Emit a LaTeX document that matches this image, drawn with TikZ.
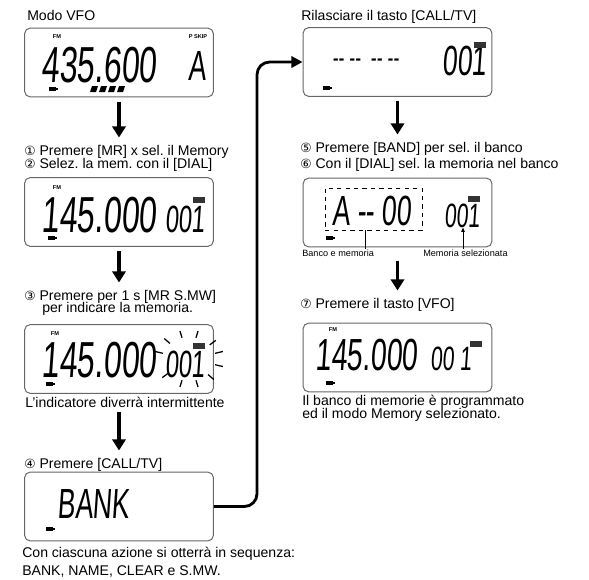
\documentclass[tikz,border=0pt]{standalone}
\usepackage{fontspec}
\setmainfont{Liberation Sans}
\newfontfamily\lcdfont[FakeStretch=0.63,FakeSlant=0.07]{Liberation Sans}
\newfontfamily\numfont{DejaVu Sans}
\usetikzlibrary{arrows.meta,calc}
\frenchspacing

% small LCD symbols
\newcommand{\battery}[2]{\fill (#1-4,#2-2) rectangle (#1+3,#2+2); \fill (#1+3,#2-1) rectangle (#1+5,#2+1);}
\newcommand{\mrflag}[2]{\fill[black!80] (#1-6,#2-3) rectangle (#1+6,#2+3);}
\newcommand{\cnum}[1]{{\numfont\fontsize{9}{9}\selectfont#1}}

\begin{document}
\begin{tikzpicture}[x=0.025cm, y=-0.025cm,
    lcd/.style={draw=black!60, line width=0.7pt, rounded corners=4pt, minimum width=4.72cm, minimum height=1.72cm},
    txt/.style={anchor=base west, inner sep=0pt, font=\fontsize{10}{10}\selectfont},
    small/.style={anchor=base west, inner sep=0pt, font=\fontsize{6.5}{6.5}\selectfont},
    big/.style={inner sep=0pt, anchor=base east, font=\lcdfont\fontsize{36}{36}\selectfont},
    mid/.style={inner sep=0pt, anchor=base west, font=\lcdfont\fontsize{27}{27}\selectfont},
    tag/.style={inner sep=0pt, font=\bfseries\fontsize{4}{4}\selectfont},
    flow/.style={line width=2.8pt, -{Triangle[length=8pt,width=9.5pt]}, shorten <=3pt, shorten >=5pt},
    link/.style={line width=2pt, rounded corners=9pt, -{Triangle[length=8pt,width=8pt]}}]
    \useasboundingbox (0,0) rectangle (589,579);

    % left column
    \node[txt] (titleA) at (27,20) {Modo VFO};
    \node[lcd] (lcdA) at (119,62.5) {};
    \node[big] (frqA) at (157,82) {435.600};
    \node[mid, font=\lcdfont\fontsize{30}{30}\selectfont] (bandA) at (188,80) {A};
    \node[tag] (fmA) at (57,37) {FM};
    \node[tag] (skipA) at (198,37) {P SKIP};
    \battery{53}{89}
    \foreach \i in {0,...,3}
        \fill (90+\i*9,92) -- ++(6,0) -- ++(2,-6) -- ++(-6,0) -- cycle;

    \node[txt] (stepA1) at (24,155) {\cnum{①} Premere [MR] x sel. il Memory};
    \node[txt] (stepA2) at (24,168) {\cnum{②} Selez. la mem. con il [DIAL]};
    \node[lcd] (lcdB) at (119,212) {};
    \node[big] (frqB) at (157,232) {145.000};
    \node[mid] (memB) at (165,232) {001};
    \node[tag] (fmB) at (57,188) {FM};
    \mrflag{199}{200}
    \battery{52}{238}

    \node[txt] (stepC1) at (24,300) {\cnum{③} Premere per 1 s [MR S.MW]};
    \node[txt] (stepC2) at (42,312) {per indicare la memoria.};
    \node[lcd] (lcdC) at (119,359) {};
    \node[big] (frqC) at (157,377) {145.000};
    \node[mid] (memC) at (165,377) {001};
    \node[tag] (fmC) at (55,334) {FM};
    \mrflag{199}{346}
    \battery{50}{384}
    \foreach \a in {15,45,75,105,140,195,225,255,285,320,345}
        \draw[line width=0.9pt] ($(189,359)+(\a:27 and 22)$) -- ($(189,359)+(\a:35 and 29)$);
    \node[txt] (noteC) at (25,407) {L'indicatore diverrà intermittente};

    \node[txt] (stepD) at (24,468) {\cnum{④} Premere [CALL/TV]};
    \node[lcd] (lcdD) at (119,506.5) {};
    \node[mid, font=\lcdfont\fontsize{30}{30}\selectfont] (bankD) at (57,518) {BANK};
    \battery{50}{529}
    \node[txt] (noteD1) at (22,557) {Con ciascuna azione si otterrà in sequenza:};
    \node[txt] (noteD2) at (22,575) {BANK, NAME, CLEAR e S.MW.};

    % right column
    \node[txt] (titleE) at (301,20) {Rilasciare il tasto [CALL/TV]};
    \node[lcd] (lcdE) at (397.5,62) {};
    \node[mid, font=\lcdfont\fontsize{20}{20}\selectfont] (dashE) at (332,67) {{-}{-} {-}{-}\, {-}{-} {-}{-}};
    \node[mid, font=\lcdfont\fontsize{30}{30}\selectfont] (memE) at (442,75) {001};
    \mrflag{480}{45}
    \battery{327}{88}

    \node[txt] (stepF1) at (300,152) {\cnum{⑤} Premere [BAND] per sel. il banco};
    \node[txt] (stepF2) at (300,168) {\cnum{⑥} Con il [DIAL] sel. la memoria nel banco};
    \node[lcd] (lcdF) at (397.5,212.5) {};
    \node[mid, font=\lcdfont\fontsize{30}{30}\selectfont] (bankF) at (332,225) {A\,{-}{-}\,00};
    \node[draw, dashed, line width=0.5pt, minimum width=2.42cm, minimum height=1.05cm] (selF) at (373.5,209) {};
    \node[mid, font=\lcdfont\fontsize{24}{24}\selectfont] (memF) at (444,227) {001};
    \mrflag{474}{199}
    \battery{330}{238}
    \node[small] (lblBank) at (302,256) {Banco e memoria};
    \node[small] (lblMem) at (423,256) {Memoria selezionata};
    \draw[line width=0.5pt] (lblBank.north -| 365,0) -- (selF.south -| 365,0);
    \draw[line width=0.5pt, -{Triangle[length=3pt,width=2.5pt]}] (lblMem.north -| 463,0) -- (memF.south -| 463,0);

    \node[txt] (stepG) at (300,308) {\cnum{⑦} Premere il tasto [VFO]};
    \node[lcd] (lcdG) at (397.5,357.5) {};
    \node[big, font=\lcdfont\fontsize{32}{32}\selectfont] (frqG) at (418,370) {145.000};
    \node[mid, font=\lcdfont\fontsize{24}{24}\selectfont] (memG) at (430,370) {00\,1};
    \node[tag] (fmG) at (333,330) {FM};
    \mrflag{476}{344}
    \battery{330}{383}
    \node[txt] (noteG1) at (302,405) {Il banco di memorie è programmato};
    \node[txt] (noteG2) at (302,418) {ed il modo Memory selezionato.};

    % arrows
    \draw[flow] (lcdA.south) -- (lcdA.south |- stepA1.north);
    \draw[flow] (lcdB.south) -- (lcdB.south |- stepC1.north);
    \draw[flow] (noteC.south -| lcdC) -- (lcdC |- stepD.north);
    \draw[flow] (lcdE.south) -- (lcdE.south |- stepF1.north);
    \draw[flow] (lcdF.south |- lblBank.south) -- (lcdF |- stepG.north);
    \draw[link] (lcdD.east) -| (257,0 |- lcdE.west) -- (lcdE.west);
\end{tikzpicture}
\end{document}
